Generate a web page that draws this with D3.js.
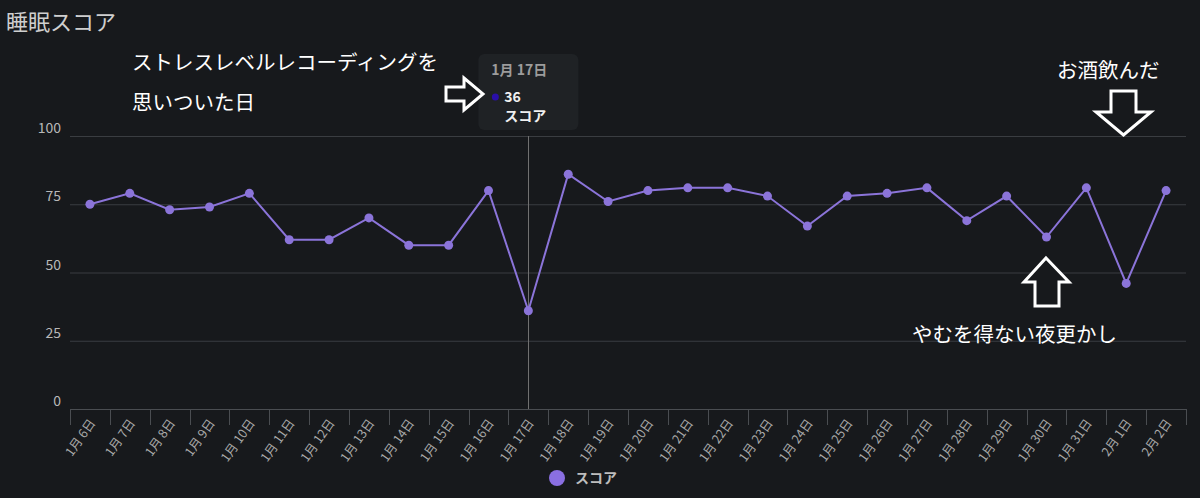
<!DOCTYPE html>
<html>
<head>
<meta charset="utf-8">
<script src="https://cdn.jsdelivr.net/npm/d3@7"></script>
<style>
  html, body { margin: 0; padding: 0; background: #17191c; }
  svg { display: block; }
  text { font-family: "Noto Sans CJK JP", "Noto Sans", sans-serif; }
</style>
</head>
<body>
<script>
// sleep score, Jan 6 - Feb 2
var days = ['1月 6日', '1月 7日', '1月 8日', '1月 9日', '1月 10日', '1月 11日', '1月 12日',
            '1月 13日', '1月 14日', '1月 15日', '1月 16日', '1月 17日', '1月 18日', '1月 19日',
            '1月 20日', '1月 21日', '1月 22日', '1月 23日', '1月 24日', '1月 25日', '1月 26日',
            '1月 27日', '1月 28日', '1月 29日', '1月 30日', '1月 31日', '2月 1日', '2月 2日'];
var scores = [75, 79, 73, 74, 79, 62, 62, 70, 60, 60, 80, 36, 86, 76,
              80, 81, 81, 78, 67, 78, 79, 81, 69, 78, 63, 81, 46, 80];
var yTicks = [0, 25, 50, 75, 100];
var seriesName = 'スコア';
var hoverDay = '1月 17日';

var width = 1200, height = 498;
var margin = {top: 136, right: 14, bottom: 89, left: 70};
var lineColor = '#8b74d9';

var svg = d3.select('body').append('svg')
    .attr('width', width)
    .attr('height', height);

svg.append('rect')
    .attr('width', width).attr('height', height)
    .attr('fill', '#17191c');

var x = d3.scaleBand()
    .domain(days)
    .range([margin.left, width - margin.right])
    .padding(0);
var y = d3.scaleLinear()
    .domain([0, 100])
    .range([height - margin.bottom, margin.top]);

function cx(d) { return x(d) + x.bandwidth() / 2; }

// title
svg.append('text')
    .attr('x', 6).attr('y', 30)
    .attr('fill', '#cfcfcf')
    .style('font-size', '22px')
    .text('睡眠スコア');

// grid + y labels
svg.append('g').selectAll('line')
    .data(yTicks.filter(function(t) { return t > 0; }))
  .enter().append('line')
    .attr('x1', margin.left).attr('x2', width - margin.right)
    .attr('y1', function(d) { return y(d) + 0.5; })
    .attr('y2', function(d) { return y(d) + 0.5; })
    .attr('stroke', '#3a3d41')
    .attr('stroke-width', 1);

svg.append('g').selectAll('text')
    .data(yTicks)
  .enter().append('text')
    .attr('x', 61)
    .attr('y', function(d) { return y(d) - 3; })
    .attr('text-anchor', 'end')
    .attr('fill', '#b8b8b8')
    .style('font-size', '14px')
    .text(function(d) { return d; });

// x axis
var xAxis = svg.append('g')
    .attr('transform', 'translate(0,' + y(0) + ')')
    .call(d3.axisBottom(x).tickSize(0).tickPadding(0));
xAxis.select('.domain').remove();
xAxis.selectAll('text')
    .attr('fill', '#a9a9a9')
    .style('font-size', '12.5px')
    .attr('text-anchor', 'end')
    .attr('dy', null)
    .attr('transform', 'translate(6,14) rotate(-55)');

svg.append('line')
    .attr('x1', margin.left).attr('x2', width - margin.right)
    .attr('y1', y(0) + 0.5).attr('y2', y(0) + 0.5)
    .attr('stroke', '#4a4d51');

var boundaries = days.map(function(d) { return x(d); }).concat([x.range()[1]]);
svg.append('g').selectAll('line')
    .data(boundaries)
  .enter().append('line')
    .attr('x1', function(d) { return Math.round(d) + 0.5; })
    .attr('x2', function(d) { return Math.round(d) + 0.5; })
    .attr('y1', y(0))
    .attr('y2', y(0) + 16)
    .attr('stroke', '#4a4d51');

// crosshair on hovered day
svg.append('line')
    .attr('x1', Math.round(cx(hoverDay)) + 0.5).attr('x2', Math.round(cx(hoverDay)) + 0.5)
    .attr('y1', y(100)).attr('y2', y(0))
    .attr('stroke', '#707070');

// series line + dots
var data = days.map(function(d, i) { return {day: d, score: scores[i]}; });

svg.append('path')
    .datum(data)
    .attr('fill', 'none')
    .attr('stroke', lineColor)
    .attr('stroke-width', 2)
    .attr('d', d3.line()
        .x(function(d) { return cx(d.day); })
        .y(function(d) { return y(d.score); }));

svg.append('g').selectAll('circle')
    .data(data)
  .enter().append('circle')
    .attr('cx', function(d) { return cx(d.day); })
    .attr('cy', function(d) { return y(d.score); })
    .attr('r', 4.5)
    .attr('fill', lineColor);

// tooltip
var hover = data.filter(function(d) { return d.day === hoverDay; })[0];
var tip = svg.append('g')
    .attr('transform', 'translate(' + (cx(hoverDay) - 50) + ',54)');
tip.append('rect')
    .attr('width', 100).attr('height', 76)
    .attr('rx', 6)
    .attr('fill', '#1f2225');
tip.append('text')
    .attr('x', 13).attr('y', 21)
    .attr('fill', '#9c9c9c')
    .style('font-size', '14px')
    .style('font-weight', 'bold')
    .text(hover.day);
tip.append('circle')
    .attr('cx', 17).attr('cy', 43)
    .attr('r', 3.5)
    .attr('fill', '#2a0fa8');
tip.append('text')
    .attr('x', 26).attr('y', 48)
    .attr('fill', '#f0f0f0')
    .style('font-size', '14px')
    .style('font-weight', 'bold')
    .text(hover.score);
tip.append('text')
    .attr('x', 26).attr('y', 67)
    .attr('fill', '#f0f0f0')
    .style('font-size', '14px')
    .style('font-weight', 'bold')
    .text(seriesName);

// annotations
var notes = [
  {text: 'ストレスレベルレコーディングを', x: 132, y: 70},
  {text: '思いついた日', x: 132, y: 110},
  {text: 'お酒飲んだ', x: 1057, y: 78},
  {text: 'やむを得ない夜更かし', x: 912, y: 342}
];
svg.append('g').selectAll('text')
    .data(notes)
  .enter().append('text')
    .attr('x', function(d) { return d.x; })
    .attr('y', function(d) { return d.y; })
    .attr('fill', '#ffffff')
    .style('font-size', '20.5px')
    .text(function(d) { return d.text; });

// outlined block arrows
function arrow(points) {
  return 'M' + points.map(function(p) { return p.join(','); }).join('L') + 'Z';
}
var arrowStyle = function(sel) {
  sel.attr('fill', '#17191c').attr('stroke', '#ffffff')
     .attr('stroke-width', 3).attr('stroke-linejoin', 'miter');
};
// right arrow pointing at tooltip
svg.append('path')
    .attr('d', arrow([[446, 87], [464, 87], [464, 78], [483, 94], [464, 110], [464, 101], [446, 101]]))
    .call(arrowStyle);
// down arrow (2/1)
svg.append('path')
    .attr('d', arrow([[1111, 91], [1136, 91], [1136, 112], [1151, 112], [1123.5, 135], [1096, 112], [1111, 112]]))
    .call(arrowStyle);
// up arrow (1/30)
svg.append('path')
    .attr('d', arrow([[1046, 258], [1069, 282], [1059, 282], [1059, 306], [1035, 306], [1035, 282], [1024, 282]]))
    .call(arrowStyle);

// legend
svg.append('circle')
    .attr('cx', 557).attr('cy', 478).attr('r', 8)
    .attr('fill', '#8a6fe2');
svg.append('text')
    .attr('x', 575).attr('y', 483)
    .attr('fill', '#bdbdbd')
    .style('font-size', '14px')
    .style('font-weight', 'bold')
    .text(seriesName);
</script>
</body>
</html>
